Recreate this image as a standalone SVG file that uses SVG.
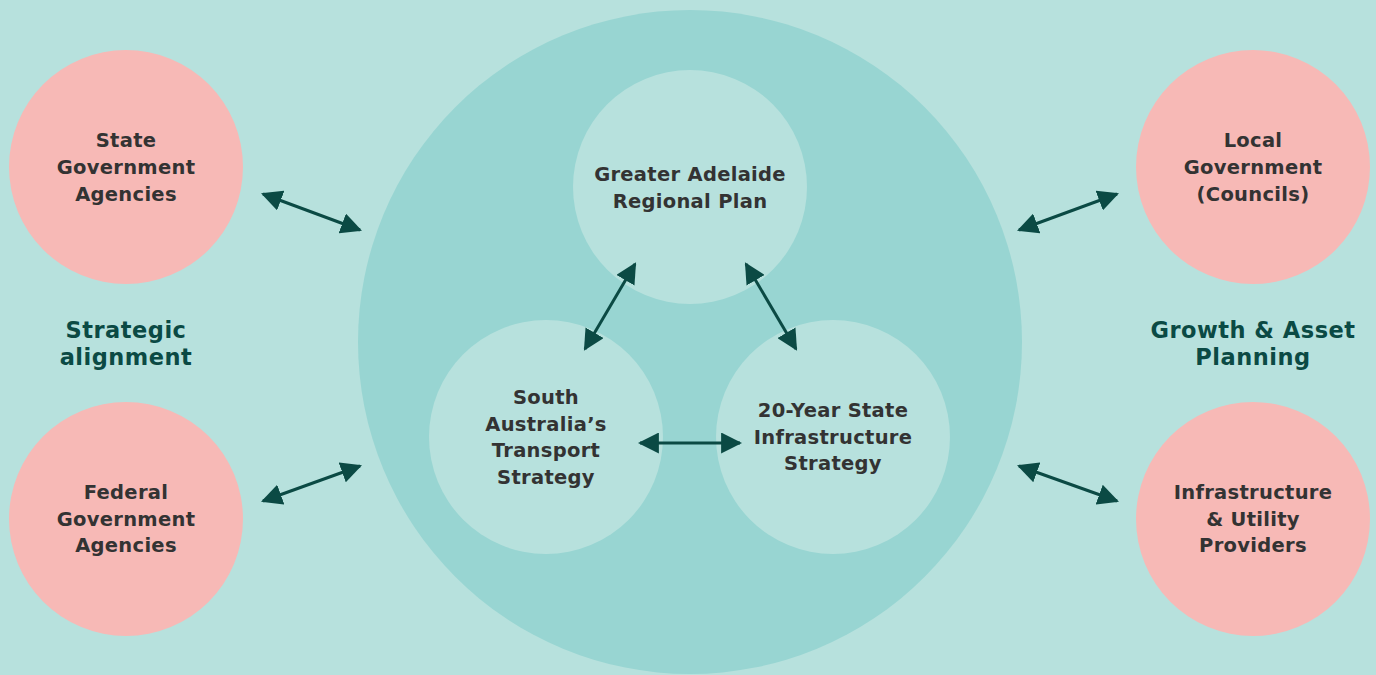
<svg xmlns="http://www.w3.org/2000/svg" width="1376" height="675" viewBox="0 0 1376 675">
<defs>
<marker id="ah" viewBox="0 0 10 10" refX="9" refY="5" markerWidth="7" markerHeight="7" markerUnits="strokeWidth" orient="auto-start-reverse">
<path d="M0,0 L10,5 L0,10 z" fill="#0b4a44"/>
</marker>
<style>
.pink{fill:#f7b9b6}
.inner{fill:#b7e1dd}
.nt{font-family:"DejaVu Sans","Liberation Sans",sans-serif;font-weight:700;font-size:19.5px;fill:#333;text-anchor:middle;letter-spacing:0.3px}
.lab{font-family:"DejaVu Sans","Liberation Sans",sans-serif;font-weight:700;font-size:22.5px;fill:#0b4a44;text-anchor:middle;letter-spacing:0.5px}
.con{stroke:#0b4a44;stroke-width:3;fill:none;marker-start:url(#ah);marker-end:url(#ah)}
</style>
</defs>
<rect width="1376" height="675" fill="#b7e1dd"/>
<circle cx="690" cy="342" r="332" fill="#98d5d2"/>
<g id="gar"><circle class="inner" cx="690" cy="187" r="117"/><text class="nt" x="690" y="181">Greater Adelaide</text><text class="nt" x="690" y="208">Regional Plan</text></g>
<g id="sats"><circle class="inner" cx="546" cy="437" r="117"/><text class="nt" x="546" y="404">South</text><text class="nt" x="546" y="431">Australia’s</text><text class="nt" x="546" y="457">Transport</text><text class="nt" x="546" y="484">Strategy</text></g>
<g id="sis"><circle class="inner" cx="833" cy="437" r="117"/><text class="nt" x="833" y="417">20-Year State</text><text class="nt" x="833" y="444">Infrastructure</text><text class="nt" x="833" y="470">Strategy</text></g>
<g id="sga"><circle class="pink" cx="126" cy="167" r="117"/><text class="nt" x="126" y="147">State</text><text class="nt" x="126" y="174">Government</text><text class="nt" x="126" y="201">Agencies</text></g>
<g id="fga"><circle class="pink" cx="126" cy="519" r="117"/><text class="nt" x="126" y="499">Federal</text><text class="nt" x="126" y="526">Government</text><text class="nt" x="126" y="552">Agencies</text></g>
<g id="lgc"><circle class="pink" cx="1253" cy="167" r="117"/><text class="nt" x="1253" y="147">Local</text><text class="nt" x="1253" y="174">Government</text><text class="nt" x="1253" y="201">(Councils)</text></g>
<g id="iup"><circle class="pink" cx="1253" cy="519" r="117"/><text class="nt" x="1253" y="499">Infrastructure</text><text class="nt" x="1253" y="526">&amp; Utility</text><text class="nt" x="1253" y="552">Providers</text></g>
<g id="labels"><text class="lab" x="126" y="338">Strategic</text><text class="lab" x="126" y="365">alignment</text><text class="lab" x="1253" y="338">Growth &amp; Asset</text><text class="lab" x="1253" y="365">Planning</text></g>
<g id="connectors">
<line class="con" x1="263" y1="194" x2="360" y2="230"/>
<line class="con" x1="263" y1="501" x2="360" y2="466"/>
<line class="con" x1="1019" y1="230" x2="1117" y2="194"/>
<line class="con" x1="1019" y1="466" x2="1117" y2="501"/>
<line class="con" x1="585" y1="349" x2="635" y2="264"/>
<line class="con" x1="746" y1="264" x2="796" y2="349"/>
<line class="con" x1="640" y1="443" x2="740" y2="443"/>
</g>
</svg>
